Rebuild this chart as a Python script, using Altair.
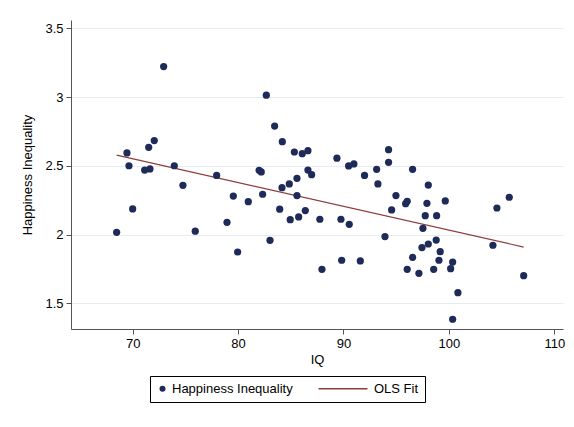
import altair as alt
import pandas as pd

iq = [68.48, 69.46, 69.65, 70.0, 71.14, 71.64, 71.52, 72.05, 72.94, 73.95,
      74.77, 75.94, 77.97, 78.95, 79.55, 79.96, 80.97, 82.0, 82.2, 82.33,
      82.68, 83.03, 83.47, 83.95, 84.2, 84.17, 84.86, 84.95, 85.34, 85.59,
      85.59, 85.75, 86.09, 86.38, 86.63, 86.63, 86.98, 87.76, 87.96, 89.38,
      89.76, 89.83, 90.49, 90.55, 90.99, 91.60, 92.0, 93.15, 93.27, 93.94,
      94.28, 94.28, 94.57, 94.98, 95.9, 96.05, 96.05, 96.56, 96.56, 97.16,
      97.45, 97.54, 97.76, 97.92, 98.05, 98.05, 98.56, 98.8, 98.84, 99.06,
      99.18, 99.66, 100.17, 100.36, 100.36, 100.86, 104.18, 104.56, 105.73, 107.1]
happiness_ineq = [2.016, 2.593, 2.50, 2.186, 2.469, 2.477, 2.634, 2.683, 3.221, 2.50,
                  2.358, 2.024, 2.43, 2.089, 2.28, 1.873, 2.239, 2.467, 2.455, 2.293,
                  3.013, 1.958, 2.789, 2.184, 2.675, 2.341, 2.368, 2.108, 2.60, 2.409,
                  2.283, 2.128, 2.588, 2.174, 2.61, 2.469, 2.435, 2.111, 1.747, 2.555,
                  2.111, 1.813, 2.499, 2.074, 2.513, 1.808, 2.43, 2.474, 2.368, 1.985,
                  2.617, 2.525, 2.179, 2.283, 2.224, 2.242, 1.747, 2.474, 1.834, 1.718,
                  1.905, 2.045, 2.137, 2.227, 2.36, 1.931, 1.747, 1.96, 2.137, 1.813,
                  1.875, 2.244, 1.752, 1.80, 1.384, 1.577, 1.922, 2.193, 2.271, 1.701]

series_names = ["Happiness Inequality", "OLS Fit"]
x_ticks = [70, 80, 90, 100, 110]
y_ticks = [1.5, 2, 2.5, 3, 3.5]

df = pd.DataFrame({"IQ": iq, "HI": happiness_ineq, "series": series_names[0]})

NAVY = "#1E2A57"
MAROON = "#8E3B3E"
FONT = "Liberation Sans"

xscale = alt.Scale(domain=[64.15, 110.83], nice=False, zero=False)
yscale = alt.Scale(domain=[1.313, 3.56], nice=False, zero=False)

xaxis = alt.Axis(values=x_ticks, title="IQ", grid=False, format="~g")
yaxis = alt.Axis(values=y_ticks, title="Happiness Inequality", grid=True, format="~g")

line_path = "M-15.33,-0.22H1V0.22H-15.33Z"

points = alt.Chart(df).mark_point(filled=True, size=52, opacity=1).encode(
    x=alt.X("IQ:Q", scale=xscale, axis=xaxis),
    y=alt.Y("HI:Q", scale=yscale, axis=yaxis),
    color=alt.Color("series:N", scale=alt.Scale(domain=series_names, range=[NAVY, MAROON]),
                    legend=alt.Legend(title=None, orient="none", legendX=79, legendY=356,
                                      direction="horizontal", strokeColor="#000000",
                                      fillColor="#ffffff", padding=6, columnPadding=25,
                                      symbolSize=36, labelFontSize=13, labelFont=FONT,
                                      labelColor="#000000", labelOffset=3)),
    shape=alt.Shape("series:N", scale=alt.Scale(domain=series_names, range=["circle", line_path]),
                    legend=None),
)

fit = alt.Chart(df).transform_regression("IQ", "HI", method="linear").mark_line(
    color=MAROON, strokeWidth=1.2
).encode(
    x=alt.X("IQ:Q", scale=xscale),
    y=alt.Y("HI:Q", scale=yscale),
)

chart = alt.layer(fit, points).properties(
    width=492, height=309,
    autosize=alt.AutoSizeParams(type="none"),
    padding={"left": 63, "top": 12, "right": 3, "bottom": 90},
    background="#ffffff",
).configure_view(stroke=None).configure_axis(
    labelFont=FONT, titleFont=FONT, labelFontSize=13, titleFontSize=13,
    labelColor="#000000", titleColor="#000000", titleFontWeight="normal",
    domainColor="#555555", tickColor="#555555", tickSize=5, gridColor="#E6EDF2",
).configure_axisY(
    titlePadding=10, labelPadding=3,
).configure_axisX(
    titlePadding=3, labelPadding=3,
)

chart.save("out.html", embed_options={"renderer": "svg", "actions": False})
